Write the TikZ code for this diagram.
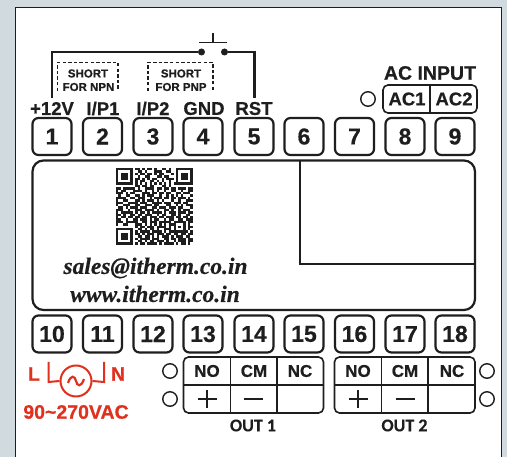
\documentclass[tikz,border=0pt]{standalone}
\usepackage{fontspec}
\setmainfont[BoldFeatures={FakeBold=0.5}]{Liberation Sans}
\newfontfamily\serifbi[BoldItalicFeatures={FakeBold=0.3}]{Liberation Serif}
\newfontfamily\carl[BoldFeatures={FakeBold=0.3}]{Carlito}
\definecolor{bgc}{HTML}{D1DADF}
\definecolor{ink}{HTML}{1E1E1E}
\definecolor{redc}{HTML}{E1301E}
\newcount\qxc
\newcount\qyc
\def\qrscan#1{\ifx#1\relax\else\if#1X\fill[ink] (116+2.4*\the\qxc,168+2.4*\the\qyc) rectangle ++(2.45,2.45);\fi\advance\qxc by 1 \expandafter\qrscan\fi}
\tikzset{
 term/.style={draw=ink,line width=2.2pt,rounded corners=6pt,minimum width=39pt,minimum height=37pt,inner sep=0pt,font=\bfseries\fontsize{23}{23}\selectfont,text=ink},
 lab/.style={font=\bfseries\fontsize{18.5}{19}\selectfont,text=ink,inner sep=0pt},
 small/.style={font=\bfseries\fontsize{11.5}{12}\selectfont,text=ink,inner sep=0pt},
 cell/.style={font=\bfseries\fontsize{17}{17}\selectfont,text=ink,inner sep=0pt},
 ring/.style={draw=ink,line width=1.4pt,circle,minimum size=14.5pt,inner sep=0pt},
 wire/.style={draw=ink,line width=2.2pt},
 thin/.style={draw=ink,line width=1.6pt},
 dashline/.style={draw=ink,line width=1.9pt,dash pattern=on 3.4pt off 2.2pt},
 redt/.style={text=redc,inner sep=0pt,font=\bfseries\fontsize{19.5}{20}\selectfont},
 redl/.style={draw=redc,line width=2pt},
 mail/.style={font=\serifbi\bfseries\itshape\fontsize{23.5}{24}\selectfont,text=ink,inner sep=0pt}
}
\begin{document}
\begin{tikzpicture}[x=1pt,y=-1pt]
\useasboundingbox (0,0) rectangle (507,457);
\fill[bgc] (0,0) rectangle (507,457);
\path[fill=white,draw=ink,line width=1.2pt] (15.5,7.5) -- (501.5,7.5) -- (501.5,458) -- (15.5,458) -- cycle;
% terminals
\foreach \n/\x in {1/52,2/102.5,3/153,4/203,5/254,6/304,7/354.5,8/405,9/455}
  \node[term] (t\n) at (\x,136.5) {\n};
\foreach \n/\x in {10/52,11/102.5,12/153,13/203,14/254,15/304,16/354.5,17/405,18/455}
  \node[term] (t\n) at (\x,334) {\n};
% labels
\node[lab] (l1) at (52,108.5) {+12V};
\node[lab] (l2) at (103,108.5) {I/P1};
\node[lab] (l3) at (153,108.5) {I/P2};
\node[lab] (l4) at (204,108.5) {GND};
\node[lab] (l5) at (254,108.5) {RST};
% switch
\node[fill=ink,circle,minimum size=7pt,inner sep=0pt] (swl) at (201.5,52) {};
\node[fill=ink,circle,minimum size=7pt,inner sep=0pt] (swr) at (224.5,52) {};
\coordinate (endl) at (52,98);
\coordinate (endr) at (254.5,98);
\draw[wire] (swl) -- (52,52) -- (endl);
\draw[wire] (swr) -- (254.5,52) -- (endr);
\coordinate (barl) at (199,42.5);
\coordinate (barr) at (227,42.5);
\coordinate (stem) at (213,33);
\draw[wire,line width=1.6pt] (barl) -- (barr);
\draw[wire,line width=1.6pt] (stem) -- (213,42.5);
% dashed
\draw[dashline] (57.5,91) -- (57.5,62.5) -- (118,62.5) -- (118,91);
\draw[dashline] (148,91) -- (148,62.5) -- (213,62.5) -- (213,91);
\node[small] (n1) at (88,73.5) {SHORT};
\node[small] (n2) at (88.5,87) {FOR NPN};
\node[small] (p1) at (181,73.5) {SHORT};
\node[small] (p2) at (181,87) {FOR PNP};
% AC input
\node[lab,font=\bfseries\fontsize{19.5}{20}\selectfont] (acin) at (430,73) {AC INPUT};
\draw[thin,rounded corners=5pt] (383,85) rectangle (477,113);
\draw[thin] (430,85) -- (430,113);
\node[cell,font=\bfseries\fontsize{18.5}{19}\selectfont] (ac1) at (407,99) {AC1};
\node[cell,font=\bfseries\fontsize{18.5}{19}\selectfont] (ac2) at (454,99) {AC2};
\node[ring] (r0) at (368,99) {};
% panel
\draw[wire,rounded corners=11pt] (32.5,160.5) rectangle (475,310);
\draw[wire] (300,160.5) -- (300,264) -- (475,264);
% QR
\qyc=0
\foreach \qrw in {
XXXXXXXoXXoXoXXoXooXXoXooXXXXXXX,
XoooooXooXXoXoooXXXooXXooXoooooX,
XoXXXoXoXoXXoXXoXoXXoooXoXoXXXoX,
XoXXXoXooXooXXoooXXoXXoooXoXXXoX,
XoXXXoXoXXoXoXoXXooXoXXXoXoXXXoX,
XoooooXoXoXXooXXoXoXooXooXoooooX,
XXXXXXXoXoXoXoXoXoXoXoXoXXXXXXXX,
ooooooooXXoXXoXXoooXXoXooooooooo,
XXoXXXXXoXooXXXXoXXoXXoXXoXXXoXX,
XoXXoooXXXXoXooXoXooXooXXooXooXX,
XXXoXoXXoooXXXoXXoXXoXXooXXoXXXo,
oXooXXooXXoXoXXXooXooXoXoXoXoooX,
XXXXooXXoXXXooXoXXXoXXoXXoXXXoXo,
XooXXoooXXoXoXXXoXoXoooXooXooXXX,
XXXooXXXXoXXXooXXXXoXXXoXXXoXXoo,
XooXXXooXXooXXXoXXoooXXooXoXoXXX,
oXXoXoXXXoXXXooXXoXXXoXXXoXXoooX,
XXXooXooXXXoXXXXoXooXXoXooXoXXXo,
XoXXXXXoXoXXoXoXXXXoXoXXXoXXXoXX,
XXoXooXXoXXoXXXooXoXXooXXoXooXXo,
XoXXoXXoXXoXXoXXXoXXoXXXoXXoXXoX,
XXooXooXXoXXXoXoXXooXoXXooXXoXXX,
XXXoXXXXXooXXoXXXoXXXXXoXXXXXoXX,
XooXXoooXXXoXoXoXoXoXoXXXoooXoXo,
ooooooooXoXXoXXXoXXXXoXoXoXoXoXX,
XXXXXXXooXXoXoXXoXooXXXoXoooXoXo,
XoooooXoXoXXXXoXXXXoXoXXXXXXXXoX,
XoXXXoXoXXoXoXXXoXXXoXXoXXoXXoXX,
XoXXXoXooXXoXXoXoXoXXXoXoXXXoXXo,
XoXXXoXoXoXXXXoXXXooXXoXXoXXXoXX,
XoooooXooXXoXoXXoXXXoXooXoXXXoXX,
XXXXXXXoXoXXoXXXXoXoXXXXoXoXXoXo}
{\qxc=0 \expandafter\qrscan\qrw\relax \global\advance\qyc by 1 }
\node[mail] (m1) at (155.5,268) {sales@itherm.co.in};
\node[mail] (m2) at (155,294) {www.itherm.co.in};
% AC supply
\node[redt] (lL) at (34,374) {L};
\node[redt] (lN) at (118,374) {N};
\node[draw=redc,line width=2pt,circle,minimum size=31pt,inner sep=0pt] (src) at (76,381) {};
\coordinate (a1) at (48.5,362);
\coordinate (a2) at (104,362);
\draw[redl] (a1) -- (48.5,382) -- (src.west);
\draw[redl] (a2) -- (104,382) -- (src.east);
\draw[redc,line width=2.2pt] (68,383) .. controls (71,374) and (75,376) .. (76,381) .. controls (77,386) and (81,388) .. (84,379);
\node[redt] (volt) at (76,412) {90\textasciitilde 270VAC};
% OUT tables
\foreach \a/\b/\c/\d in {183.5/230.5/277/323.5,334.5/381.5/428/475}{
  \draw[thin,rounded corners=5pt] (\a,357) rectangle (\d,413);
  \draw[thin] (\a,385) -- (\d,385);
  \draw[thin] (\b,357) -- (\b,413);
  \draw[thin] (\c,357) -- (\c,413);
}
\foreach \x/\t in {207/NO,254/CM,300/NC,358/NO,405/CM,452/NC}
  \node[cell] at (\x,371) {\t};
\foreach \x in {207,358} {
  \draw[ink,line width=1.7pt] (\x-9.5,399) -- (\x+9.5,399);
  \draw[ink,line width=1.7pt] (\x,390) -- (\x,408);
}
\foreach \x in {253,405}
  \draw[ink,line width=1.7pt] (\x-9.5,399) -- (\x+9.5,399);
\foreach \x/\y in {170/371,170/399,487/371,487/399}
  \node[ring] at (\x,\y) {};
\node[inner sep=0pt,text=ink,font=\carl\bfseries\fontsize{18}{18}\selectfont] (o1) at (253,425.5) {OUT 1};
\node[inner sep=0pt,text=ink,font=\carl\bfseries\fontsize{18}{18}\selectfont] (o2) at (404.5,425.5) {OUT 2};
\end{tikzpicture}
\end{document}
